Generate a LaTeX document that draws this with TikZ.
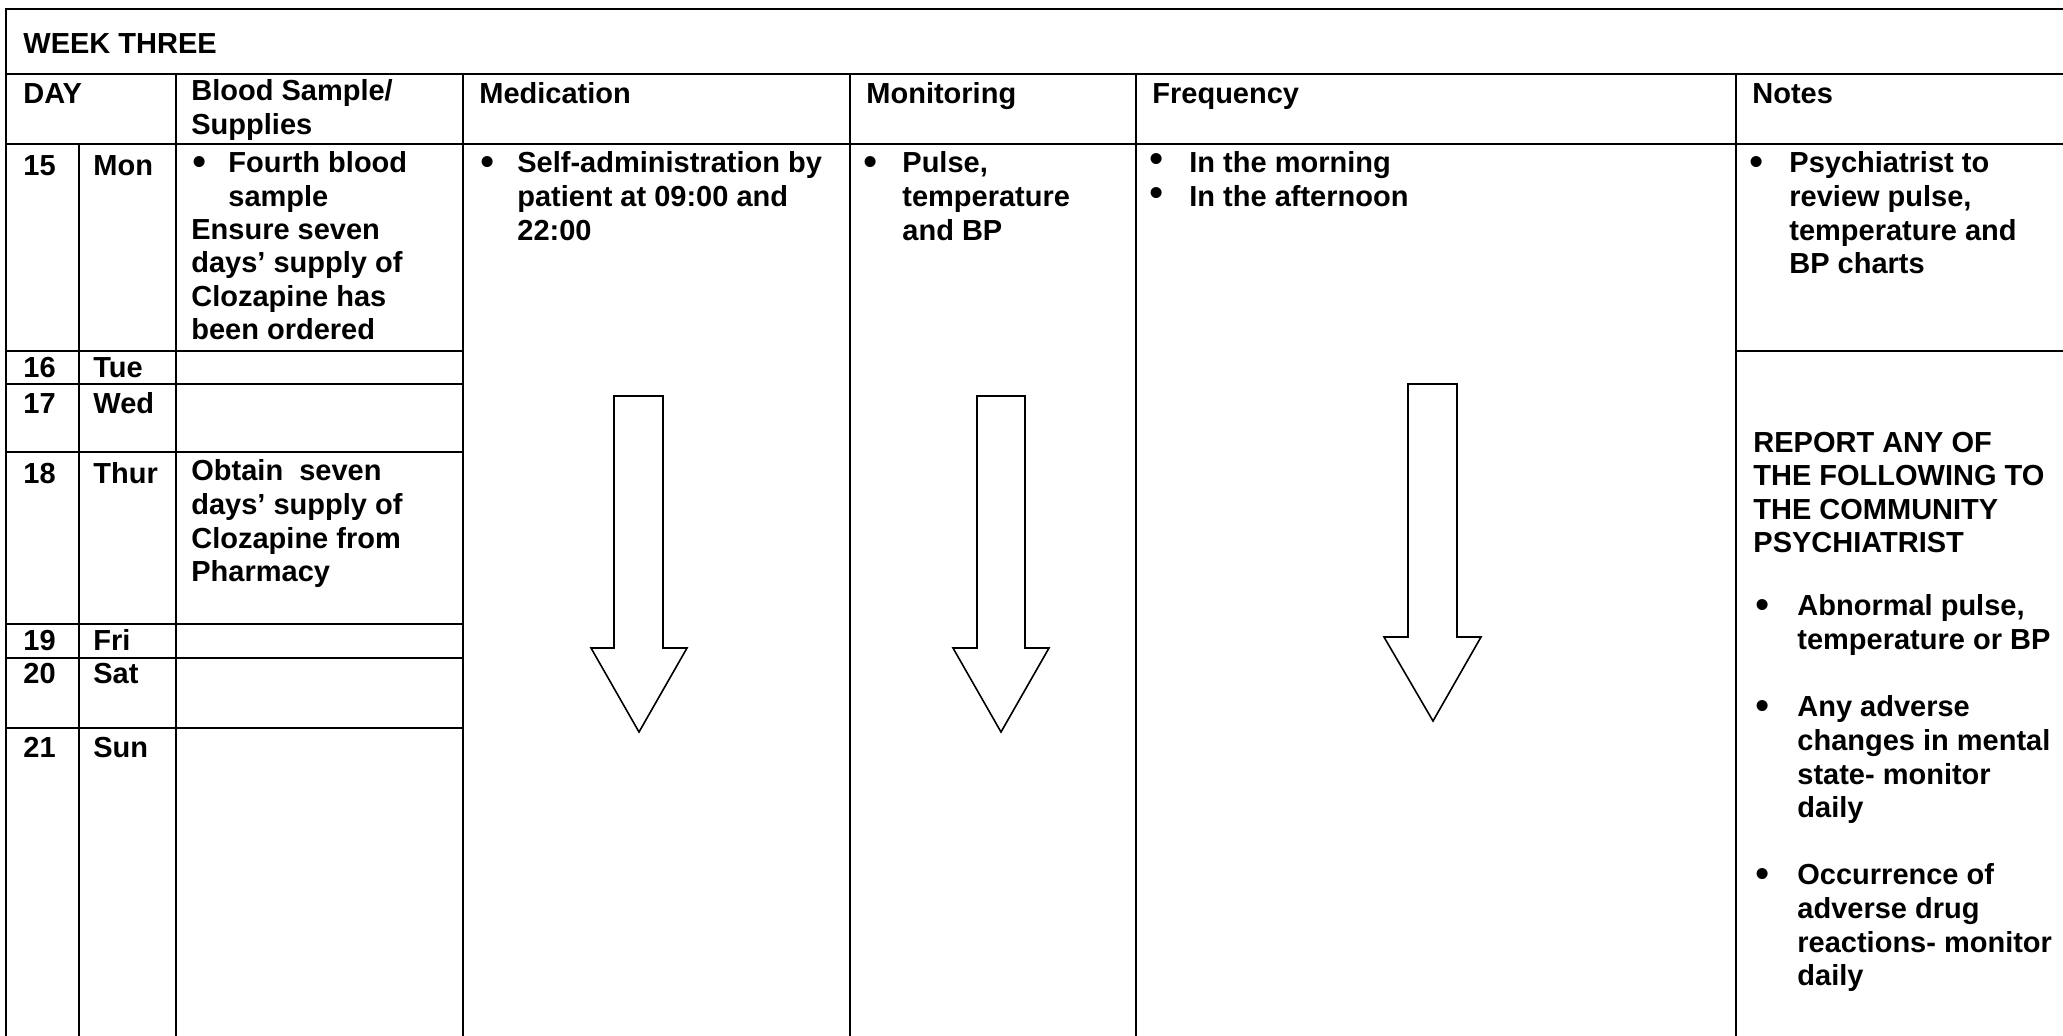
\documentclass[tikz,border=0pt]{standalone}
\usepackage{fontspec}
\setmainfont{Liberation Sans}
\usepackage{tikz}
\usetikzlibrary{positioning}
\newcommand{\cellfont}{\fontsize{14.5}{16.8}\selectfont\bfseries}
\newcommand{\bigdot}{\scalebox{1.4}{\textbullet}}
\newcommand{\listdot}{\makebox[20pt][l]{\mdseries\bigdot}}

\begin{document}
\begin{tikzpicture}[
    x=0.5pt,
    y=-0.5pt,
    grid/.style={
		line width=1pt,
		draw=black
	},
    cell/.style={
		anchor=north west,
		inner sep=0pt,
		align=left,
		font=\cellfont,
		execute at begin node=\strut
	},
    dot/.style={
		anchor=base west,
		inner sep=0pt,
		text height=1.4ex,
		text depth=0pt,
		font=\fontsize{14.5}{16.8}\selectfont
	},
    blockarrow/.style={
		draw=black,
		line width=0.8pt,
		fill=white
	}
  ]
  \useasboundingbox (0,0) rectangle (2063,1035);

    % We start by drawing the grid
  \draw [grid] (2070,9) -- (6,9) -- (6,1040);
  \draw [grid] (6,74) -- (2070,74);
  \draw [grid] (6,144) -- (2070,144);
  \draw [grid] (79,144) -- (79,1040);
  \draw [grid] (176,74) -- (176,1040);
  \draw [grid] (463,74) -- (463,1040);
  \draw [grid] (850,74) -- (850,1040);
  \draw [grid] (1136,74) -- (1136,1040);
  \draw [grid] (1736,74) -- (1736,1040);
  \draw [grid] (6,351) -- (463,351);
  \draw [grid] (6,384) -- (463,384);
  \draw [grid] (6,452) -- (463,452);
  \draw [grid] (6,624) -- (463,624);
  \draw [grid] (6,658) -- (463,658);
  \draw [grid] (6,728) -- (463,728);
  \draw [grid] (1736,351) -- (2070,351);

    % headings
  \node [cell] (week) at (23,29.5) {WEEK THREE};
  \node [cell] (dayhead) at (23,79.5) {DAY};
  \node [cell] (bloodhead) at (191,79.5) {Blood Sample/\\Supplies};
  \node [cell] (medhead) at (479,79.5) {Medication};
  \node [cell] (monhead) at (866,79.5) {Monitoring};
  \node [cell] (freqhead) at (1152,79.5) {Frequency};
  \node [cell] (noteshead) at (1752,79.5) {Notes};

    % days of the week
  \node [cell] (d15) at (23,151.5) {15};
  \node [cell] (mon) at (93,151.5) {Mon};
  \node [cell] (d16) at (23,353.5) {16};
  \node [cell] (tue) at (93,353.5) {Tue};
  \node [cell] (d17) at (23,389.5) {17};
  \node [cell] (wed) at (93,389.5) {Wed};
  \node [cell] (d18) at (23,459.5) {18};
  \node [cell] (thur) at (93,459.5) {Thur};
  \node [cell] (d19) at (23,626.5) {19};
  \node [cell] (fri) at (93,626.5) {Fri};
  \node [cell] (d20) at (23,659.5) {20};
  \node [cell] (sat) at (93,659.5) {Sat};
  \node [cell] (d21) at (23,733.5) {21};
  \node [cell] (sun) at (93,733.5) {Sun};

    % blood sample and supplies
  \node [dot] (bloodbullet) at (192,175) {\bigdot};
  \node [cell] (fourth) at (228,151.5) {Fourth blood\\sample};
  \node [cell] (ensure) at (191,218.7) {Ensure seven\\days’ supply of\\Clozapine has\\been ordered};
  \node [cell] (obtain) at (191,459.5) {Obtain\ \ seven\\days’ supply of\\Clozapine from\\Pharmacy};

    % medication, monitoring and frequency
  \node [dot] (medbullet) at (480,175) {\bigdot};
  \node [cell] (medtext) at (517,151.5) {Self-administration by\\patient at 09:00 and\\22:00};
  \node [dot] (monbullet) at (863,175) {\bigdot};
  \node [cell] (montext) at (902,151.5) {Pulse,\\temperature\\and BP};
  \node [cell] (freqtext) at (1149,151.5) {\listdot In the morning\\\listdot In the afternoon};

    % notes
  \node [dot] (notesbullet) at (1749,175) {\bigdot};
  \node [cell] (review) at (1789,151.5) {Psychiatrist to\\review pulse,\\temperature and\\BP charts};
  \node [cell] (report) at (1753,431.5) {REPORT ANY OF\\THE FOLLOWING TO\\THE COMMUNITY\\PSYCHIATRIST};
  \node [dot] (abnbullet) at (1755,618) {\bigdot};
  \node [cell] (abnormal) at (1797,594.5) {Abnormal pulse,\\temperature or BP};
  \node [dot] (mentalbullet) at (1755,719) {\bigdot};
  \node [cell] (mental) at (1797,695.5) {Any adverse\\changes in mental\\state- monitor\\daily};
  \node [dot] (drugbullet) at (1755,887) {\bigdot};
  \node [cell] (drug) at (1797,863.5) {Occurrence of\\adverse drug\\reactions- monitor\\daily};

    % the block arrows pointing down
  \draw [blockarrow] (614,396) -- (663,396) -- (663,648) -- (687,648) -- (639,732) -- (591,648) -- (614,648) -- cycle;
  \draw [blockarrow] (977,396) -- (1025,396) -- (1025,648) -- (1049,648) -- (1001,732) -- (953,648) -- (977,648) -- cycle;
  \draw [blockarrow] (1408,384) -- (1457,384) -- (1457,637) -- (1481,637) -- (1433,721) -- (1384,637) -- (1408,637) -- cycle;

\end{tikzpicture}
\end{document}
